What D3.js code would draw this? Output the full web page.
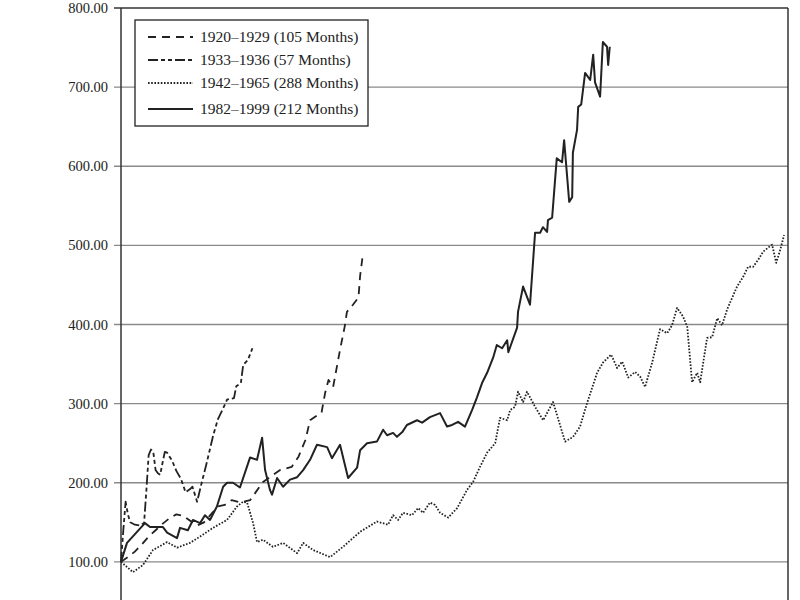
<!DOCTYPE html>
<html><head><meta charset="utf-8">
<script src="https://cdn.jsdelivr.net/npm/d3@7"></script>
<style>body{margin:0;background:#fff}</style></head>
<body><svg id="c" width="800" height="600"></svg>
<script>
const yTicks=[100,200,300,400,500,600,700,800];
const seriesNames=["1920–1929 (105 Months)","1933–1936 (57 Months)","1942–1965 (288 Months)","1982–1999 (212 Months)"];
const s1920=[[0,100],[3,106],[6,113],[9,122],[12,132],[15,140],[18,148],[21,155],[24,160],[27,158],[30,152],[33,146],[36,150],[39,160],[42,170],[45,172],[48,178],[52,175],[56,178],[61.6,201],[69,216],[74,220],[77,233],[80,254],[82,279],[87,289],[88.5,313],[90,330],[92,321],[95,368],[97,397],[98,416],[100.6,425],[103,434],[103.7,461],[105,491]];
const s1933=[[0,100],[1,140],[2,176],[3,160],[4,150],[6,147],[8,146],[10,149],[11,190],[12,235],[13,242],[14,239],[15,216],[16,212],[17,210],[18,225],[19,239],[20,238],[21,233],[22,229],[24,215],[26,205],[28,188],[30,192],[31,195],[33,176],[35,200],[37,223],[40,260],[42,280],[44,292],[46,305],[49,307],[50,322],[52,326],[53,349],[55,355],[57,370]];
const s1942=[[0,100],[5.2,87],[9.5,96],[13.9,115],[20,125],[24.3,118],[29.9,124],[34.3,132],[39.9,143],[46,153],[50.3,170],[52.9,176],[54.7,175],[57.3,149],[59,125],[61.6,128],[65.9,119],[70.3,124],[76.4,111],[79,124],[83.3,115],[90.7,106],[96.3,119],[103.7,138],[111,151],[115.8,147],[118,159],[120.2,153],[122.3,162],[126.2,159],[128.9,168],[131,162],[134,175],[136.2,172],[138.4,162],[141.9,156],[145.8,168],[150.1,191],[152.7,201],[155.7,220],[158.8,238],[162.3,250],[164.4,282],[167.5,279],[168.8,292],[170.9,296],[172.2,315],[174.4,302],[176.1,315],[179.6,296],[183.1,279],[187.4,302],[192.6,252],[196.1,258],[199.1,271],[202.2,301],[206.5,339],[209.1,352],[212.6,362],[215.2,345],[217.4,353],[220,333],[223,340],[225.2,334],[227.3,321],[230.4,352],[233.8,394],[236.9,389],[239,399],[241.2,421],[243.8,410],[245.6,397],[247.7,327],[249.9,339],[251.2,327],[254.2,383],[256.4,384],[258.6,408],[260.7,399],[262.9,419],[267.2,448],[269.8,460],[272,473],[274.2,473],[276.4,482],[278.5,492],[282.4,501],[284.2,478],[285.9,494],[287.6,513]];
const s1982=[[0,100],[2.6,124],[10.4,149],[12.6,144],[18.2,144],[20,137],[24.3,130],[25.6,143],[29,140],[31.2,153],[34.3,149],[36.4,159],[38.6,153],[41.6,170],[44.3,195],[46,200],[48.6,200],[51.6,194],[56,232],[59,229],[61.2,257],[62.5,216],[64.6,191],[65.5,185],[67.7,206],[70.3,195],[73.3,204],[76.4,207],[79,216],[82,229],[85,248],[89.4,245],[91.5,231],[95,248],[98.5,206],[102.4,219],[103.7,241],[106.7,250],[111,252],[113.7,267],[115.4,260],[118,263],[119.7,258],[122,264],[124,273],[128.4,279],[130.6,276],[134,283],[138.4,288],[141.4,271],[143.6,273],[146.2,277],[149.2,271],[152.3,292],[154.4,308],[156.6,326],[158.8,339],[161.4,358],[163,374],[165.3,370],[167.5,380],[168,365],[171.8,396],[172.2,416],[174.4,448],[177.4,425],[179.6,516],[181.8,516],[183,523],[184.8,517],[185.2,532],[187,535],[189,610],[191.3,605],[192.2,633],[193.5,587],[194.4,555],[195.7,561],[196,617],[197.8,646],[198.3,675],[199.6,678],[201.3,718],[203.5,709],[204.8,741],[205.6,706],[207.8,688],[209,757],[210.8,751],[211.3,728],[212,751]];
const series=[s1920,s1933,s1942,s1982];
const dashes=["8,6","10,3,4,3,4,3","1.6,1.6",null];
const widths=[1.8,1.8,1.8,2];

const svg=d3.select("#c");
const x=d3.scaleLinear().domain([0,288]).range([121,785]);
const y=d3.scaleLinear().domain([0,800]).range([641,8]);
const font="'Liberation Serif', 'DejaVu Serif', serif";

svg.append("g").selectAll("line").data(yTicks).join("line")
 .attr("x1",114).attr("x2",788).attr("y1",d=>y(d)).attr("y2",d=>y(d))
 .attr("stroke",d=>d===800?"#333":"#8a8a8a").attr("stroke-width",1.3);
svg.append("line").attr("x1",788).attr("x2",788).attr("y1",8).attr("y2",600).attr("stroke","#333").attr("stroke-width",1.5);
svg.append("line").attr("x1",121).attr("x2",121).attr("y1",8).attr("y2",600).attr("stroke","#333").attr("stroke-width",1.5);
svg.append("g").selectAll("text").data(yTicks).join("text")
 .attr("x",108).attr("y",d=>y(d)+5).attr("text-anchor","end")
 .attr("font-family",font).attr("font-size",14.5).attr("fill","#222")
 .text(d=>d3.format(".2f")(d));

const line=d3.line().x(d=>x(d[0])).y(d=>y(d[1]));
series.forEach((s,i)=>{
 svg.append("path").datum(s).attr("d",line).attr("fill","none")
  .attr("stroke","#222").attr("stroke-width",widths[i])
  .attr("stroke-dasharray",dashes[i]).attr("stroke-linejoin","round");
});

const lg=svg.append("g");
lg.append("rect").attr("x",135).attr("y",20).attr("width",233).attr("height",106)
 .attr("fill","#fff").attr("stroke","#222").attr("stroke-width",1.3);
const rowsY=[37,60,83,109];
seriesNames.forEach((n,i)=>{
 lg.append("line").attr("x1",148).attr("x2",193).attr("y1",rowsY[i]).attr("y2",rowsY[i])
  .attr("stroke","#222").attr("stroke-width",widths[i]).attr("stroke-dasharray",dashes[i]);
 lg.append("text").attr("x",200).attr("y",rowsY[i]+5).attr("font-family",font)
  .attr("font-size",15.5).attr("fill","#222").text(n);
});
</script></body></html>
